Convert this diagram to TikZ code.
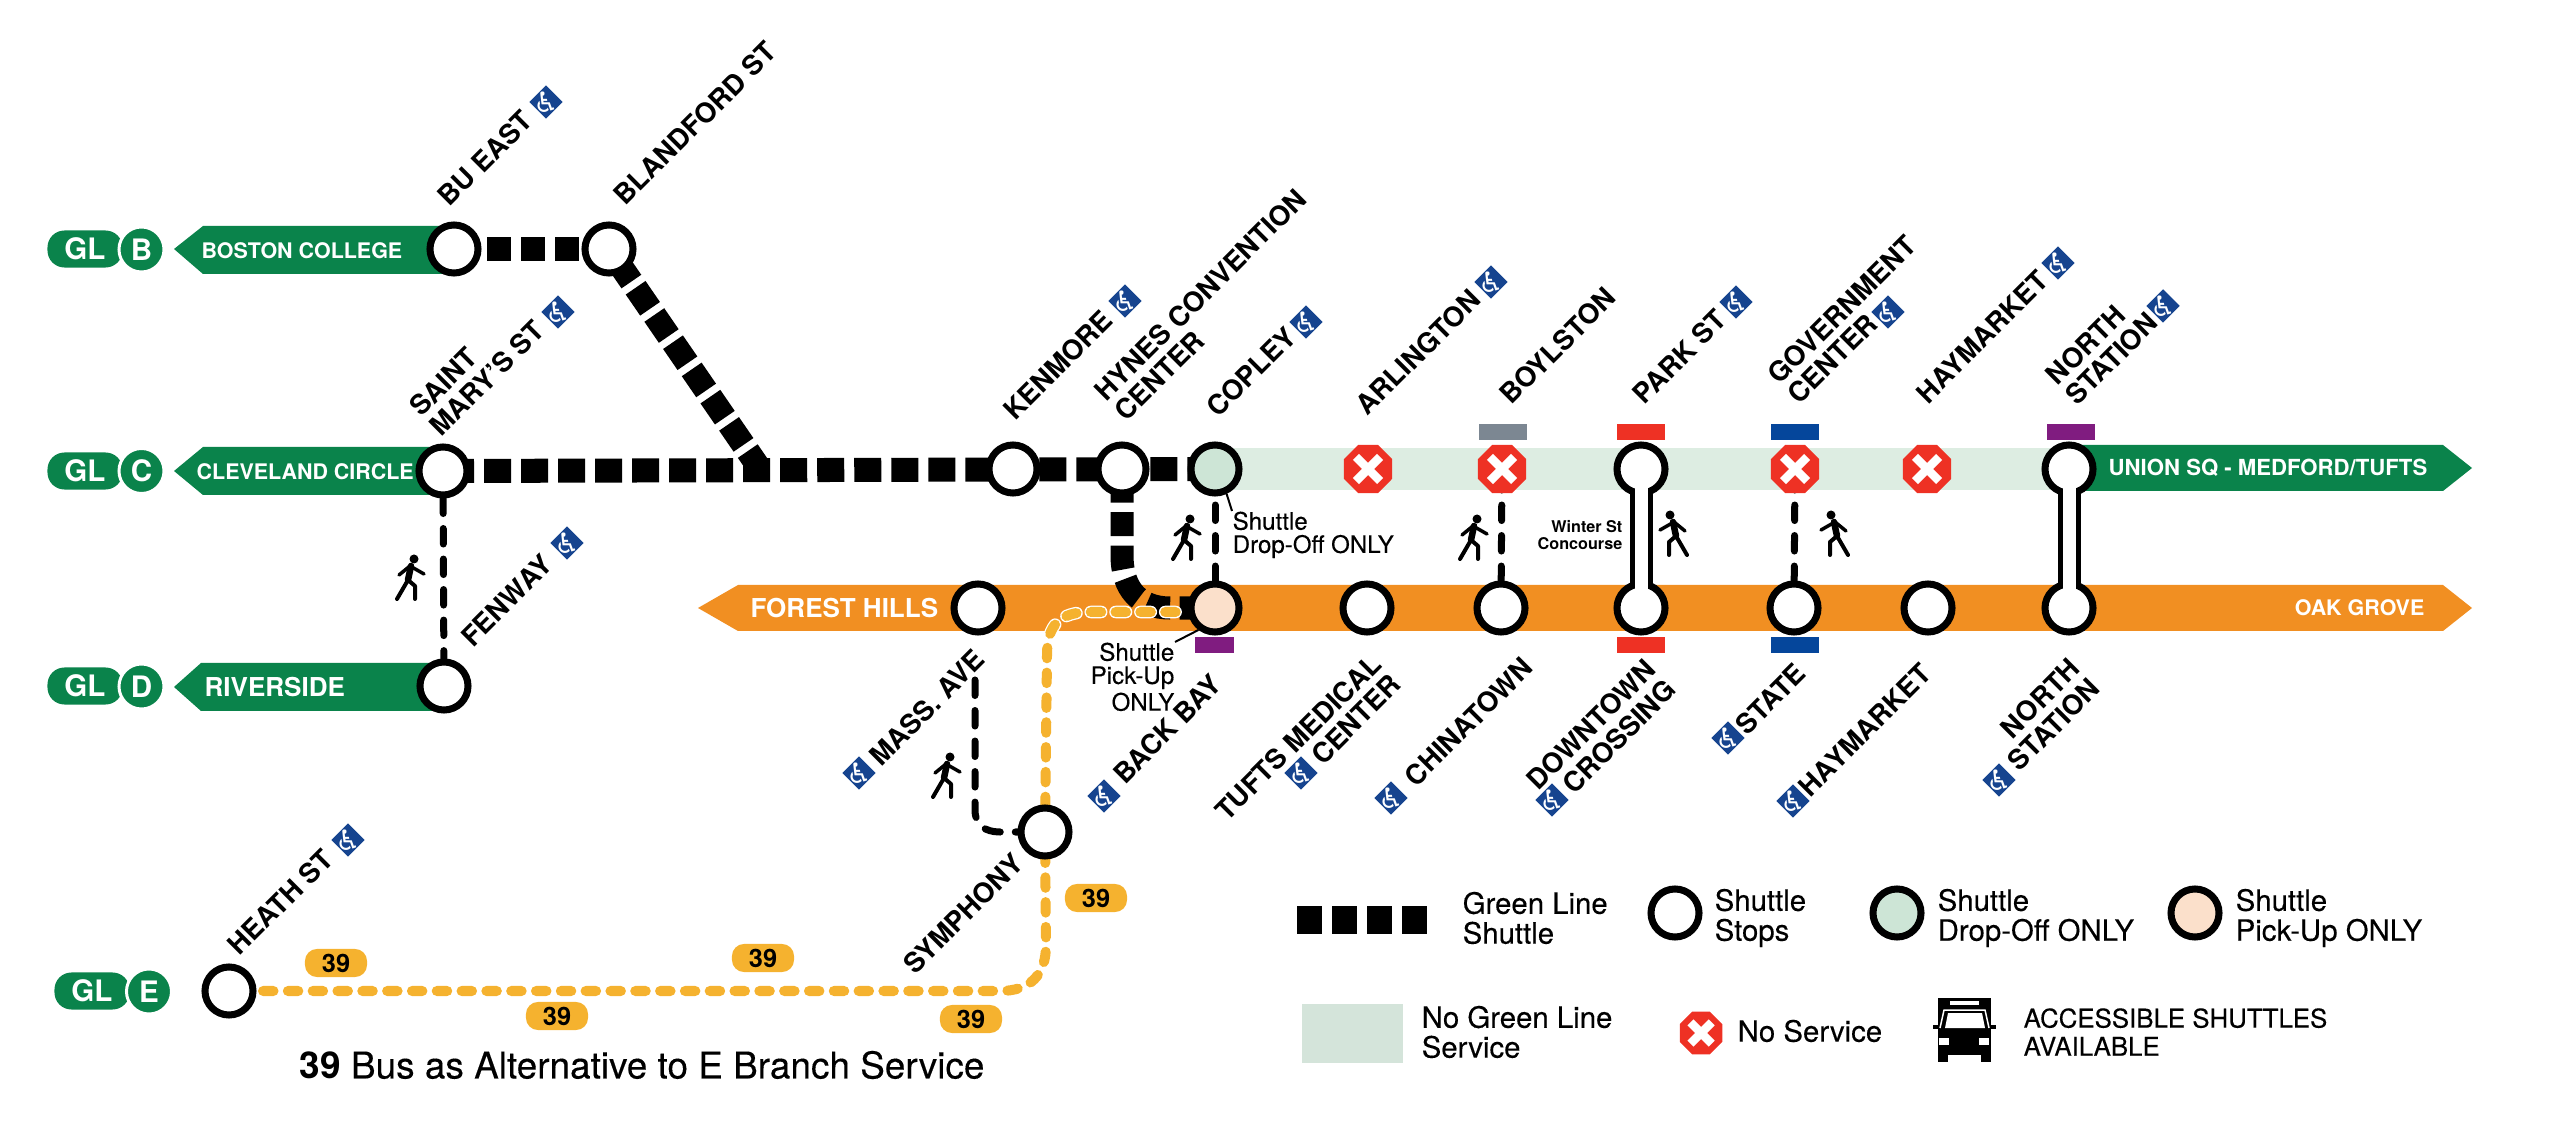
\documentclass[tikz,border=0pt]{standalone}
\usepackage{fontspec}
\setmainfont{TeX Gyre Heros}
\newfontfamily\symfont{DejaVu Sans}
\newfontfamily\medfont[FakeBold=0.25]{TeX Gyre Heros}
\usetikzlibrary{shapes.geometric,backgrounds,calc}
\definecolor{glgreen}{RGB}{10,131,75}
\definecolor{glpale}{RGB}{221,237,226}
\definecolor{glkey}{RGB}{212,228,218}
\definecolor{dropfill}{RGB}{205,229,214}
\definecolor{pickfill}{RGB}{251,224,203}
\definecolor{olorange}{RGB}{241,143,34}
\definecolor{busyellow}{RGB}{245,178,47}
\definecolor{stopred}{RGB}{238,49,36}
\definecolor{accblue}{RGB}{22,68,143}
\definecolor{barblue}{RGB}{5,70,155}
\definecolor{bargray}{RGB}{124,135,146}
\definecolor{barpurple}{RGB}{128,28,128}
\newcommand{\wheelc}{\makebox[0pt]{\raisebox{-.38em}[0pt][0pt]{♿}}}
\begin{document}
\begin{tikzpicture}[
  x=.01cm,y=-.01cm,
  stopn/.style={circle,draw=black,line width=.07cm,fill=white,minimum size=.48cm,inner sep=0pt},
  nosvc/.style={
    regular polygon,regular polygon sides=8,
    fill=stopred,minimum size=#1,inner sep=0pt,
    path picture={
      \draw[white,line width=.085cm]
        ($(path picture bounding box.center)!.5!(path picture bounding box.north west)$) --
        ($(path picture bounding box.center)!.5!(path picture bounding box.south east)$);
      \draw[white,line width=.085cm]
        ($(path picture bounding box.center)!.5!(path picture bounding box.north east)$) --
        ($(path picture bounding box.center)!.5!(path picture bounding box.south west)$);
    }
  },
  stnup/.style={font=\bfseries\fontsize{7.8}{8}\selectfont,rotate=45,anchor=south west,inner sep=0pt,align=left},
  stndn/.style={font=\bfseries\fontsize{7.8}{8}\selectfont,rotate=45,anchor=south east,inner sep=0pt,align=right},
  access/.style={diamond,fill=accblue,text=white,font=\symfont\fontsize{8}{8}\selectfont,minimum size=.34cm,inner sep=0pt},
  barlab/.style={font=\bfseries\fontsize{6.1}{7}\selectfont,text=white,anchor=west,inner sep=0pt},
  barbig/.style={font=\bfseries\fontsize{7.4}{8}\selectfont,text=white,anchor=west,inner sep=0pt},
  glbadge/.style={fill=glgreen,text=white,rounded corners=.17cm,minimum width=.76cm,minimum height=.37cm,inner sep=0pt,
    font=\bfseries\fontsize{8.4}{9}\selectfont},
  glletter/.style={circle,fill=glgreen,draw=white,line width=.03cm,text=white,minimum size=.45cm,inner sep=0pt,
    font=\bfseries\fontsize{8.4}{9}\selectfont},
  shuttle/.style={line width=.24cm,dash pattern=on .27cm off .10cm},
  walkway/.style={line width=.07cm,line cap=round,dash pattern=on .155cm off .15cm},
  buspath/.style={line width=.10cm,line cap=round,color=busyellow,dash pattern=on .105cm off .143cm},
  buscase/.style={line width=.125cm,line cap=round,color=white,dash pattern=on .105cm off .143cm},
  pipeout/.style={line width=.23cm,color=black},
  pipein/.style={line width=.13cm,color=white},
  leader/.style={line width=.02cm,color=black},
  linebar/.style={minimum width=.48cm,minimum height=.16cm,inner sep=0pt},
  bus39/.style={fill=busyellow,rounded corners=.12cm,minimum width=.62cm,minimum height=.28cm,inner sep=0pt,
    font=\bfseries\fontsize{7.2}{8}\selectfont},
  keytxt/.style={font=\medfont\fontsize{8.35}{8.5}\selectfont,anchor=west,align=left,inner sep=0pt},
  note/.style={font=\medfont\fontsize{6.85}{6.6}\selectfont,inner sep=0pt},
  walker/.pic={
    \fill (3,-18) circle (4.5);
    \draw[line width=.065cm,line cap=round] (0,-11) -- (-3,3);
    \draw[line width=.035cm,line cap=round,line join=round] (-12,-2) -- (-1,-11) -- (13,-3);
    \draw[line width=.04cm,line cap=round,line join=round] (-14,22) -- (-3,3) -- (4,9) -- (4,22);
  },
  busicon/.pic={
    \fill (1938,998) rectangle (1991,1055);
    \fill (1938,1055) rectangle (1948,1062);
    \fill (1981,1055) rectangle (1991,1062);
    \fill (1933,1025) rectangle (1996,1029);
    \fill[white] (1950,1001) rectangle (1979,1005);
    \draw[white,line width=.015cm] (1940,1028) -- (1944,1010) -- (1985,1010) -- (1989,1028);
    \fill[white] (1945,1028) -- (1948,1013) -- (1982,1013) -- (1985,1028) -- cycle;
    \fill[white] (1939,1038) rectangle (1949,1045);
    \fill[white] (1979,1038) rectangle (1989,1045);
  }
]
\useasboundingbox (0,0) rectangle (2560,1134);

\node[stopn] (bueast) at (454,249) {};
\node[stopn] (blandford) at (609,249) {};
\node[stopn] (stmarys) at (443,471) {};
\node[stopn] (kenmore) at (1013,469) {};
\node[stopn] (hynes) at (1122,469) {};
\node[stopn,fill=dropfill] (copley) at (1215,469) {};
\node[nosvc=.52cm] (arlington) at (1368,469) {};
\node[nosvc=.52cm] (boylston) at (1502,469) {};
\node[stopn] (parkst) at (1641,469) {};
\node[nosvc=.52cm] (govctr) at (1795,469) {};
\node[nosvc=.52cm] (haymktup) at (1927,469) {};
\node[stopn] (northup) at (2069,469) {};
\node[stopn] (fenway) at (444,686) {};
\node[stopn] (massave) at (978,608) {};
\node[stopn,fill=pickfill] (backbay) at (1215,608) {};
\node[stopn] (tufts) at (1367,608) {};
\node[stopn] (chinatown) at (1501,608) {};
\node[stopn] (downtown) at (1641,608) {};
\node[stopn] (state) at (1794,608) {};
\node[stopn] (haymktdn) at (1928,608) {};
\node[stopn] (northdn) at (2069,608) {};
\node[stopn] (symphony) at (1045,832) {};
\node[stopn] (heath) at (229,991) {};

\coordinate (juncdiag) at (758,466);
\coordinate (massstart) at (975,680);
\coordinate (busend) at (1180,612);

\begin{scope}[on background layer]
\fill[glpale] (1215,448) rectangle (2069,490);
\fill[glgreen] (174,249) -- (203,226) -- (454,226) -- (454,274) -- (203,274) -- cycle;
\fill[glgreen] (174,471) -- (203,447) -- (443,447) -- (443,495) -- (203,495) -- cycle;
\fill[glgreen] (174,687) -- (201,663) -- (444,663) -- (444,711) -- (201,711) -- cycle;
\fill[glgreen] (2069,445) -- (2443,445) -- (2472,468) -- (2443,491) -- (2069,491) -- cycle;
\fill[olorange] (698,608) -- (738,585) -- (2443,585) -- (2472,608) -- (2443,631) -- (738,631) -- cycle;
\draw[shuttle,dash pattern=on .24cm off .10cm,dash phase=.01cm] (bueast.center) -- (blandford.center);
\draw[shuttle,dash phase=.33cm] (stmarys.center) -- (copley.center);
\draw[shuttle,dash pattern=on .255cm off .075cm,dash phase=.19cm] (blandford.center) -- (juncdiag);
\draw[shuttle,line width=.23cm,dash pattern=on .24cm off .095cm,dash phase=.24cm]
  (hynes.center) -- (1122,555) .. controls (1122,590) and (1140,608) .. (1170,608) -- (backbay.center);
\draw[walkway,dash phase=.035cm] (stmarys.center) -- (fenway.center);
\draw[walkway,dash phase=.25cm] (copley.center) -- (backbay.center);
\draw[walkway,dash phase=.25cm] (boylston.center) -- (chinatown.center);
\draw[walkway,dash phase=.25cm] (govctr.center) -- (state.center);
\draw[walkway] (massstart) -- (975,810) .. controls (975,825) and (985,832) .. (1000,832) -- (symphony.center);
\draw[pipeout] (parkst.center) -- (downtown.center);
\draw[pipeout] (northup.center) -- (northdn.center);
\draw[buspath,dash phase=.156cm] (heath.center) -- (1000,991) .. controls (1030,991) and (1046,975) .. (1046,945) -- (symphony.center);
\draw[buscase] (symphony.center) -- (1047,655) .. controls (1047,625) and (1060,612) .. (1090,612) -- (busend);
\draw[buspath] (symphony.center) -- (1047,655) .. controls (1047,625) and (1060,612) .. (1090,612) -- (busend);
\end{scope}

\draw[pipein] (parkst.center) -- (downtown.center);
\draw[pipein] (northup.center) -- (northdn.center);

\node[glbadge,minimum width=.75cm] (glb) at (85,249) {GL\hspace{.1em}};
\node[glletter] (lineb) at (141.5,249.5) {B};
\node[glbadge,minimum width=.75cm] (glc) at (85,471) {GL\hspace{.1em}};
\node[glletter] (linec) at (141.5,471) {C};
\node[glbadge,minimum width=.75cm] (gld) at (85,686) {GL\hspace{.1em}};
\node[glletter] (lined) at (141.5,686.5) {D};
\node[glbadge,minimum width=.75cm] (gle) at (92,991) {GL\hspace{.1em}};
\node[glletter] (linee) at (149,991.5) {E};

\node[barlab] (boston) at (201,251) {BOSTON COLLEGE};
\node[barlab] (cleve) at (196,472) {CLEVELAND CIRCLE};
\node[barbig] (river) at (204,687) {RIVERSIDE};
\node[barbig] (forest) at (750,608) {FOREST HILLS};
\node[barlab,font=\bfseries\fontsize{6.3}{7}\selectfont] (union) at (2108,468) {UNION SQ - MEDFORD/TUFTS};
\node[barlab,anchor=east] (oak) at (2425,608) {OAK GROVE};

\node[linebar,fill=bargray] (barboyl) at (1503,432.5) {};
\node[linebar,fill=stopred] (barpark) at (1641,432.5) {};
\node[linebar,fill=barblue] (bargov) at (1794.5,432.5) {};
\node[linebar,fill=barpurple] (barnorth) at (2070.5,432.5) {};
\node[linebar,fill=barpurple,minimum width=.39cm] (barback) at (1214.5,645) {};
\node[linebar,fill=stopred] (bardown) at (1641,645) {};
\node[linebar,fill=barblue] (barstate) at (1794.5,645) {};

\node[stnup] (lbu) at (450,209) {BU EAST};
\node[stnup] (lbland) at (626,208) {BLANDFORD ST};
\node[stnup] (lmary) at (442,439) {SAINT\\MARY'S ST};
\node[stnup] (lken) at (1016,423) {KENMORE};
\node[stnup] (lhynes) at (1127,424) {HYNES CONVENTION\\CENTER};
\node[stnup] (lcop) at (1219,420) {COPLEY};
\node[stnup] (larl) at (1368,418) {ARLINGTON};
\node[stnup] (lboyl) at (1512,407) {BOYLSTON};
\node[stnup] (lpark) at (1645,407) {PARK ST};
\node[stnup] (lgov) at (1800,407) {GOVERNMENT\\CENTER};
\node[stnup] (lhayu) at (1928,406) {HAYMARKET};
\node[stnup] (lnorthu) at (2078,408) {NORTH\\STATION};
\node[stnup] (lfen) at (473,649) {FENWAY};
\node[stnup] (lheath) at (240,958) {HEATH ST};
\node[stnup] (lsym) at (916,977) {SYMPHONY};
\node[stndn] (lmass) at (988,662) {MASS. AVE};
\node[stndn] (lback) at (1225,687) {BACK BAY};
\node[stndn] (ltufts) at (1404,687) {TUFTS MEDICAL\\CENTER};
\node[stndn] (lchina) at (1536,670) {CHINATOWN};
\node[stndn] (ldown) at (1679,692) {DOWNTOWN\\CROSSING};
\node[stndn] (lstate) at (1809,676) {STATE};
\node[stndn] (lhayd) at (1934,676) {HAYMARKET};
\node[stndn] (lnorthd) at (2103,691) {NORTH\\STATION};

\node[access] (acbu) at (546,102) {\wheelc};
\node[access] (acmary) at (558,312) {\wheelc};
\node[access] (acfen) at (567,543) {\wheelc};
\node[access] (acken) at (1125,301) {\wheelc};
\node[access] (accop) at (1306,322) {\wheelc};
\node[access] (acarl) at (1491,282) {\wheelc};
\node[access] (acpark) at (1736,302) {\wheelc};
\node[access] (acgov) at (1888,312) {\wheelc};
\node[access] (achay) at (2058,263) {\wheelc};
\node[access] (acnorth) at (2163,306) {\wheelc};
\node[access] (acheath) at (348,840) {\wheelc};
\node[access] (acmass) at (859,773) {\wheelc};
\node[access] (acback) at (1104,796) {\wheelc};
\node[access] (actufts) at (1301,773) {\wheelc};
\node[access] (acchina) at (1391,798) {\wheelc};
\node[access] (acdown) at (1552,800) {\wheelc};
\node[access] (acstate) at (1728,738) {\wheelc};
\node[access] (achayd) at (1793,801) {\wheelc};
\node[access] (acnorthd) at (1999,780) {\wheelc};

\pic at (411,577) {walker};
\pic at (1187,537) {walker};
\pic at (1474,537) {walker};
\pic[xscale=-1] at (1673,533) {walker};
\pic[xscale=-1] at (1834,533) {walker};
\pic at (947,775) {walker};

\node[note,anchor=north west,align=left] (dropnote) at (1232,511) {Shuttle\\Drop-Off ONLY};
\node[note,anchor=north east,align=right] (picknote) at (1175,642) {Shuttle\\Pick-Up\\ONLY};
\node[note,anchor=east,align=right,font=\bfseries\fontsize{4.6}{4.9}\selectfont] (winter) at (1623,535) {Winter St\\Concourse};
\draw[leader] (copley.-65) -- (dropnote.north west);
\draw[leader] (backbay.233) -- (picknote.north east);

\node[bus39] (b1) at (336,963) {39};
\node[bus39] (b2) at (763,958) {39};
\node[bus39] (b3) at (557,1016) {39};
\node[bus39] (b4) at (971,1019) {39};
\node[bus39] (b5) at (1096,898) {39};
\node[anchor=west,inner sep=0pt,font=\medfont\fontsize{10.5}{11}\selectfont] (caption) at (299,1065) {{\bfseries\fontspec{TeX Gyre Heros}\bfseries 39} Bus as Alternative to E Branch Service};

\coordinate (keyleft) at (1297,920);
\coordinate (keyright) at (1428,920);
\draw[line width=.27cm,dash pattern=on .25cm off .10cm] (keyleft) -- (keyright);
\node[keytxt] (keyshut) at (1462,918) {Green Line\\Shuttle};
\node[stopn] (keystop) at (1675,913) {};
\node[keytxt] (keystoptxt) at (1714,918) {Shuttle\\Stops};
\node[stopn,fill=dropfill] (keydrop) at (1897,913) {};
\node[keytxt] (keydroptxt) at (1937,918) {Shuttle\\Drop-Off ONLY};
\node[stopn,fill=pickfill] (keypick) at (2195,913) {};
\node[keytxt] (keypicktxt) at (2235,918) {Shuttle\\Pick-Up ONLY};
\node[fill=glkey,minimum width=1.01cm,minimum height=.59cm,inner sep=0pt] (keyband) at (1352.5,1033.5) {};
\node[keytxt] (keybandtxt) at (1421,1032) {No Green Line\\Service};
\node[nosvc=.46cm] (keyx) at (1701,1033) {};
\node[keytxt] (keyxtxt) at (1737,1031) {No Service};
\pic at (0,0) {busicon};
\node[keytxt,font=\medfont\fontsize{7.35}{8}\selectfont] (keybus) at (2023,1032) {ACCESSIBLE SHUTTLES\\AVAILABLE};
\end{tikzpicture}
\end{document}
